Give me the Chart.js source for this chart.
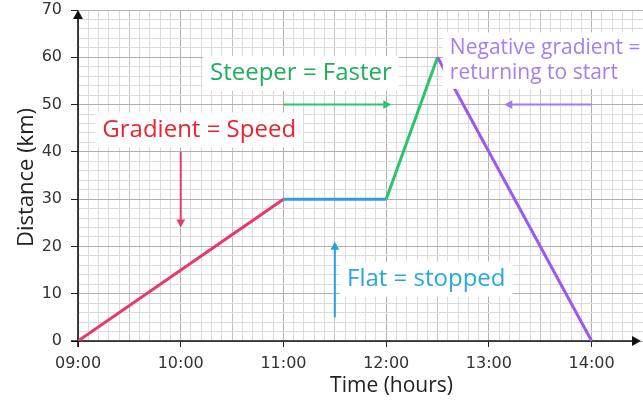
<!DOCTYPE html>
<html>
<head>
<meta charset="utf-8">
<script src="https://cdn.jsdelivr.net/npm/chart.js@4.4.1/dist/chart.umd.min.js"></script>
<style>
  html, body { margin: 0; padding: 0; background: #fff; }
  #wrap { width: 643px; height: 403px; }
</style>
</head>
<body>
<div id="wrap"><canvas id="chart"></canvas></div>
<script>
// journey: time in hours, distance in km
const times = [9, 11, 12, 12.5, 14];
const distances = [0, 30, 30, 60, 0];
const segColors = ['#e8386a', '#2b9de0', '#2cc46a', '#9b59f0'];

const xMin = 9, xMax = 14.5, xStep = 0.1;
const yMin = 0, yMax = 70, yStep = 2;

const xTitle = 'Time (hours)';
const yTitle = 'Distance (km)';

// annotation texts, placed in data units
const notes = [
  { lines: ['Gradient = Speed'], x: 10.18, y: 44.6, color: '#e8242e', size: 24 },
  { lines: ['Steeper = Faster'], x: 11.17, y: 56.6, color: '#1fae5c', size: 24 },
  { lines: ['Flat = stopped'], x: 12.39, y: 13.1, color: '#2aa8de', size: 24 },
  { lines: ['Negative gradient =', 'returning to start'], x: 12.62, y: 59.3, color: '#a57ff0', size: 21, align: 'left' }
];

// annotation arrows, from -> to (head at "to")
const pointers = [
  { from: [10, 40], to: [10, 24], color: '#e33d6b' },
  { from: [11, 50], to: [12.05, 50], color: '#2cc46a' },
  { from: [14, 50], to: [13.15, 50], color: '#a07cf0' },
  { from: [11.5, 5], to: [11.5, 21], color: '#2a9fd8' }
];

const near = (v, m) => Math.abs(v / m - Math.round(v / m)) < 1e-6;
const pad2 = n => (n < 10 ? '0' : '') + n;

function head(ctx, x1, y1, x2, y2, size) {
  const ang = Math.atan2(y2 - y1, x2 - x1);
  ctx.beginPath();
  ctx.moveTo(x2, y2);
  ctx.lineTo(x2 - size * Math.cos(ang) + size * 0.55 * Math.sin(ang), y2 - size * Math.sin(ang) - size * 0.55 * Math.cos(ang));
  ctx.lineTo(x2 - size * Math.cos(ang) - size * 0.55 * Math.sin(ang), y2 - size * Math.sin(ang) + size * 0.55 * Math.cos(ang));
  ctx.closePath();
  ctx.fill();
}

const decor = {
  id: 'decor',
  beforeDatasetsDraw(chart) {
    const { ctx, chartArea: a } = chart;
    ctx.save();
    ctx.strokeStyle = '#111';
    ctx.fillStyle = '#111';
    ctx.lineWidth = 1.6;
    ctx.beginPath();
    ctx.moveTo(a.left, a.bottom + 6);
    ctx.lineTo(a.left, a.top + 6);
    ctx.moveTo(a.left - 7, a.bottom);
    ctx.lineTo(a.right - 8, a.bottom);
    ctx.stroke();
    head(ctx, a.left, a.top + 8, a.left, a.top, 9);
    head(ctx, a.right - 10, a.bottom, a.right - 2, a.bottom, 9);

    // axis titles
    ctx.fillStyle = '#222';
    ctx.font = '21px "Open Sans"';
    ctx.textAlign = 'center';
    ctx.textBaseline = 'middle';
    ctx.fillText(xTitle, a.left + (a.right - a.left) * 0.555, 386);
    ctx.save();
    ctx.translate(27, (a.top + a.bottom) / 2 + 2);
    ctx.rotate(-Math.PI / 2);
    ctx.font = '22px "Open Sans"';
    ctx.fillText(yTitle, 0, 0);
    ctx.restore();
    ctx.restore();
  },
  afterDatasetsDraw(chart) {
    const { ctx } = chart;
    const sx = chart.scales.x, sy = chart.scales.y;
    ctx.save();
    pointers.forEach(p => {
      const x1 = sx.getPixelForValue(p.from[0]), y1 = sy.getPixelForValue(p.from[1]);
      const x2 = sx.getPixelForValue(p.to[0]), y2 = sy.getPixelForValue(p.to[1]);
      ctx.strokeStyle = p.color;
      ctx.fillStyle = p.color;
      ctx.lineWidth = 2;
      ctx.beginPath();
      ctx.moveTo(x1, y1);
      ctx.lineTo(x2 - (x2 - x1) * 0.05, y2 - (y2 - y1) * 0.05);
      ctx.stroke();
      head(ctx, x1, y1, x2, y2, 8);
    });

    notes.forEach(n => {
      ctx.font = n.size + 'px "Open Sans"';
      const lh = n.size * 1.2;
      const w = Math.max(...n.lines.map(l => ctx.measureText(l).width));
      const h = lh * n.lines.length;
      const x = sx.getPixelForValue(n.x);
      const cy = sy.getPixelForValue(n.y);
      const left = n.align === 'left' ? x : x - w / 2;
      ctx.fillStyle = '#fff';
      ctx.fillRect(left - 7, cy - h / 2 - 3, w + 14, h + 6);
      ctx.fillStyle = n.color;
      ctx.textAlign = 'left';
      ctx.textBaseline = 'middle';
      n.lines.forEach((l, i) => {
        ctx.fillText(l, left, cy - h / 2 + lh * (i + 0.5));
      });
    });
    ctx.restore();
  }
};

new Chart(document.getElementById('chart'), {
  type: 'scatter',
  data: {
    datasets: [{
      data: times.map((t, i) => ({ x: t, y: distances[i] })),
      showLine: true,
      borderWidth: 3,
      pointRadius: 0,
      segment: { borderColor: c => segColors[c.p0DataIndex] }
    }]
  },
  options: {
    responsive: true,
    maintainAspectRatio: false,
    animation: false,
    layout: { padding: { top: 10, right: 0, left: 0, bottom: 0 } },
    plugins: { legend: { display: false }, tooltip: { enabled: false } },
    scales: {
      x: {
        type: 'linear',
        min: xMin, max: xMax,
        afterFit(s) { s.height = 62; s.paddingRight = 0; s.paddingLeft = 0; },
        border: { display: false },
        grid: {
          color: c => near(c.tick.value, 1) ? '#b0b0b0' : near(c.tick.value, 0.5) ? '#c2c2c2' : '#dcdcdc',
          tickColor: c => near(c.tick.value, 1) ? '#222' : 'rgba(0,0,0,0)',
          tickLength: 6,
          lineWidth: 1
        },
        ticks: {
          stepSize: xStep,
          maxTicksLimit: 1000,
          autoSkip: false,
          maxRotation: 0,
          padding: 7,
          color: '#333',
          font: { family: 'DejaVu Sans', size: 16 },
          callback: v => near(v, 1) && v < xMax ? pad2(Math.round(v)) + ':00' : ''
        }
      },
      y: {
        min: yMin, max: yMax,
        afterFit(s) { s.width = 78; s.paddingTop = 0; s.paddingBottom = 0; },
        border: { display: false },
        grid: {
          color: c => near(c.tick.value, 10) ? '#b0b0b0' : '#dcdcdc',
          tickColor: c => near(c.tick.value, 10) ? '#222' : 'rgba(0,0,0,0)',
          tickLength: 7,
          lineWidth: 1
        },
        ticks: {
          stepSize: yStep,
          maxTicksLimit: 1000,
          autoSkip: false,
          padding: 9,
          color: '#333',
          font: { family: 'DejaVu Sans', size: 16 },
          callback: v => near(v, 10) ? Math.round(v) : ''
        }
      }
    }
  },
  plugins: [decor]
});
</script>
</body>
</html>
